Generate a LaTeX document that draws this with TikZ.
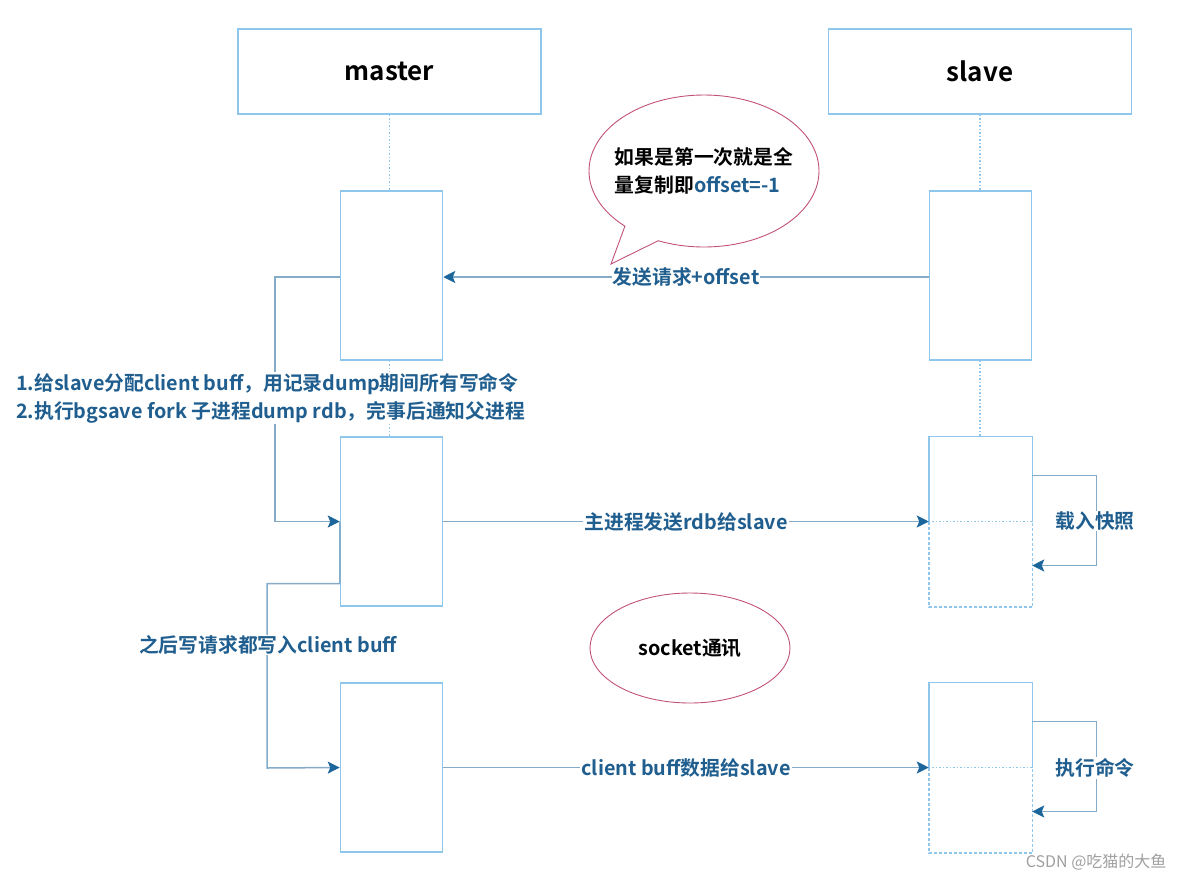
\documentclass[tikz,border=0pt]{standalone}
\usepackage{fontspec}
\setmainfont{Noto Sans CJK SC}[BoldFont=* Bold]
\usetikzlibrary{arrows.meta,shapes.geometric,shapes.callouts}
\definecolor{boxc}{HTML}{8EC6EC}
\definecolor{linec}{HTML}{84ABC8}
\definecolor{tipc}{HTML}{1D669C}
\definecolor{lblc}{HTML}{1F5E8E}
\definecolor{bubc}{HTML}{C2527C}
\tikzset{
  head/.style={draw=boxc,line width=1.5pt,minimum width=303,minimum height=85,
    font=\fontsize{26}{26}\selectfont\bfseries},
  act/.style={draw=boxc,line width=1.5pt,minimum width=102,minimum height=169},
  life/.style={draw=boxc,line width=1.5pt,dotted},
  msg/.style={draw=linec,line width=1.5pt,-{Stealth[length=12pt,width=12pt,inset=2.5pt,color=tipc]}},
  lbl/.style={font=\fontsize{19.8}{28}\selectfont\bfseries,text=lblc,fill=white,inner sep=1pt},
  bubble/.style={draw=bubc,line width=0.9pt},
}
\begin{document}
\begin{tikzpicture}[x=1pt,y=-1pt]
\useasboundingbox (0,0) rectangle (1184,884);
% heads
\node[head] (master) at (389.5,71.5) {master};
\node[head] (slave) at (980,71.5) {slave};
% activations
\node[act] (m1) at (391.5,275.5) {};
\node[act] (m2) at (391.5,521.5) {};
\node[act] (m3) at (391.5,767.5) {};
\node[act] (s1) at (980.5,275.5) {};
\node[act,draw=none] (s2) at (980.5,521.5) {};
\node[act,draw=none] (s3) at (980.5,767.5) {};
\foreach \s in {s2,s3} {
  \draw[life,solid] (\s.west) |- (\s.north east) -- (\s.east);
  \draw[life,densely dashed] (\s.west) |- (\s.south east) -- (\s.east);
  \draw[life] (\s.west) -- (\s.east);
}
% lifelines
\draw[life] (master.south) -- (master.south |- m1.north);
\draw[life] (m1.south -| master.south) -- (m2.north -| master.south);
\draw[life] (slave.south) -- (slave.south |- s1.north);
\draw[life] (s1.south -| slave.south) -- (s2.north -| slave.south);
% messages
\draw[msg] (s1.west |- 0,277) -- node[lbl] (req) {发送请求+offset} (m1.east |- 0,277);
\draw[msg] (m2.east) -- node[lbl] (rdb) {主进程发送rdb给slave} (s2.west);
\draw[msg] (m3.east) -- node[lbl] (buf) {client buff数据给slave} (s3.west);
% master side loops
\draw[msg] (m1.west |- 0,277) -- ++(-65,0) |- (m2.west);
\node[lbl,anchor=west,align=left] (note1) at (15,398)
  {1.给slave分配client buff，用记录dump期间所有写命令\\2.执行bgsave fork 子进程dump rdb，完事后通知父进程};
\draw[msg] (m2.west) -- ++(0,62) -| (267,768) -- (m3.west);
\node[lbl] (note2) at (268,645) {之后写请求都写入client buff};
% slave side loops
\draw[msg] ([yshift=46pt]s2.east) -- ++(64,0) |- ([yshift=-44pt]s2.east);
\node[lbl] (load) at (1095,521) {载入快照};
\draw[msg] ([yshift=46pt]s3.east) -- ++(64,0) |- ([yshift=-44pt]s3.east);
\node[lbl] (exec) at (1095,768) {执行命令};
% bubbles
\node[bubble,ellipse callout,minimum width=230,minimum height=152,
  callout absolute pointer={(611,264)},callout pointer arc=20] (ask) at (704,171) {};
\node[font=\fontsize{19.8}{28}\selectfont\bfseries,align=left] (asktext) at (ask.center)
  {如果是第一次就是全\\量复制即\textcolor{lblc}{offset=-1}};
\node[bubble,ellipse,minimum width=200,minimum height=110,
  font=\fontsize{19.8}{28}\selectfont\bfseries] (sock) at (690,648) {socket通讯};
\node[anchor=east,text=gray!75,font=\fontsize{16}{16}\selectfont] (mark) at (1170,862) {CSDN @吃猫的大鱼};
\end{tikzpicture}
\end{document}
